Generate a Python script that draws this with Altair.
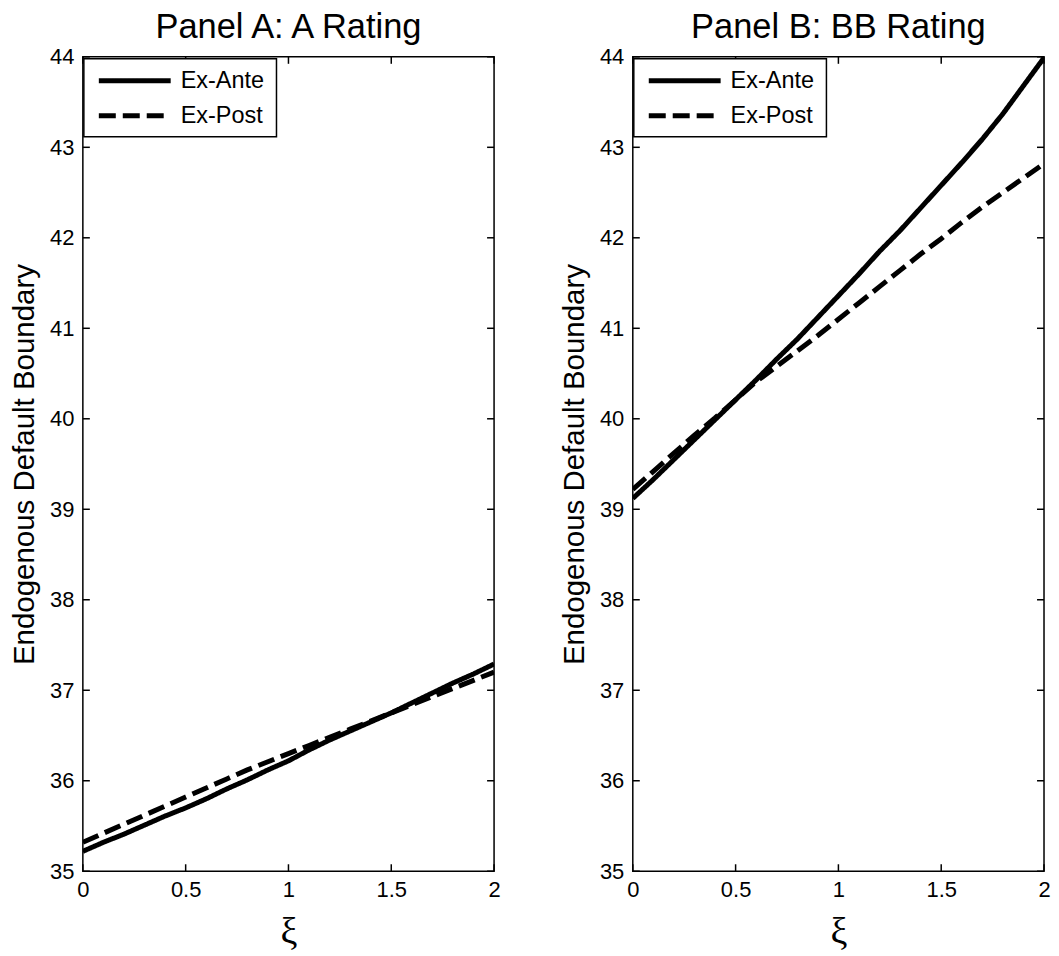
import altair as alt
import pandas as pd

xi = [round(0.1 * i, 1) for i in range(21)]

a_ante = [35.22, 35.32, 35.41, 35.51, 35.61, 35.70, 35.80, 35.91, 36.01, 36.12, 36.22,
          36.34, 36.45, 36.55, 36.65, 36.75, 36.86, 36.97, 37.08, 37.18, 37.29]
a_post = [35.32, 35.42, 35.52, 35.62, 35.72, 35.82, 35.92, 36.02, 36.12, 36.21, 36.30,
          36.39, 36.48, 36.57, 36.66, 36.75, 36.84, 36.93, 37.02, 37.11, 37.20]
b_ante = [39.12, 39.33, 39.55, 39.77, 39.99, 40.21, 40.43, 40.66, 40.88, 41.12, 41.36,
          41.60, 41.85, 42.08, 42.33, 42.58, 42.83, 43.09, 43.37, 43.68, 43.99]
b_post = [39.22, 39.42, 39.62, 39.82, 40.01, 40.21, 40.41, 40.58, 40.75, 40.92, 41.10,
          41.28, 41.46, 41.64, 41.82, 41.99, 42.17, 42.34, 42.50, 42.66, 42.82]

series = ["Ex-Ante", "Ex-Post"]
dashes = [[1, 0], [17, 7]]
y_ticks = [35, 36, 37, 38, 39, 40, 41, 42, 43, 44]
x_ticks = [0, 0.5, 1, 1.5, 2]
titles = ["Panel A: A Rating", "Panel B: BB Rating"]

W, H = 412, 816
SANS = "Liberation Sans"
SERIF = "Liberation Serif"

x_axis = alt.Axis(values=x_ticks, format="~g", title="ξ", labelFlush=False,
                  labelFontSize=22, labelFont=SANS, labelColor="black", labelPadding=8,
                  ticks=False, domain=False, grid=False,
                  titleFont=SERIF, titleFontSize=38, titleFontWeight="normal",
                  titleColor="black", titlePadding=13)
y_axis = alt.Axis(values=y_ticks, title="Endogenous Default Boundary", labelFlush=False,
                  labelFontSize=22, labelFont=SANS, labelColor="black", labelPadding=9,
                  ticks=False, domain=False, grid=False,
                  titleFont=SANS, titleFontSize=29.5, titleFontWeight="normal",
                  titleColor="black", titlePadding=10)


def panel(title, ante, post):
    df = pd.DataFrame({
        "xi": xi + xi,
        "value": ante + post,
        "series": [series[0]] * len(xi) + [series[1]] * len(xi),
    })
    xs = alt.Scale(domain=[0, 2], nice=False, zero=False)
    ys = alt.Scale(domain=[35, 44], nice=False, zero=False)

    lines = alt.Chart(df).mark_line(color="black", strokeWidth=5, clip=True, strokeCap="butt").encode(
        x=alt.X("xi:Q", scale=xs, axis=x_axis, title="ξ"),
        y=alt.Y("value:Q", scale=ys, axis=y_axis, title="Endogenous Default Boundary"),
        strokeDash=alt.StrokeDash("series:N", scale=alt.Scale(domain=series, range=dashes), legend=None),
    )

    yt = pd.DataFrame({"v": y_ticks})
    xt = pd.DataFrame({"v": x_ticks})
    tick_style = dict(color="black", strokeWidth=1.5)
    left_t = alt.Chart(yt).mark_rule(**tick_style).encode(
        y=alt.Y("v:Q", scale=ys, axis=y_axis, title="Endogenous Default Boundary"),
        x=alt.value(0), x2=alt.value(7))
    right_t = alt.Chart(yt).mark_rule(**tick_style).encode(
        y=alt.Y("v:Q", scale=ys, axis=y_axis, title="Endogenous Default Boundary"),
        x=alt.value(W - 7), x2=alt.value(W))
    bottom_t = alt.Chart(xt).mark_rule(**tick_style).encode(
        x=alt.X("v:Q", scale=xs, axis=x_axis, title="ξ"), y=alt.value(H - 7), y2=alt.value(H))
    top_t = alt.Chart(xt).mark_rule(**tick_style).encode(
        x=alt.X("v:Q", scale=xs, axis=x_axis, title="ξ"), y=alt.value(0), y2=alt.value(7))

    # legend box (inside top-left of the plot)
    box = alt.Chart(pd.DataFrame({"s": [0]})).mark_rect(
        fill="white", stroke="black", strokeWidth=1.5).encode(
        x=alt.value(1), x2=alt.value(194), y=alt.value(2), y2=alt.value(80))
    leg = [box]
    for i, (s, d) in enumerate(zip(series, dashes)):
        yy = 24 + 35 * i
        leg.append(alt.Chart(pd.DataFrame({"s": [s]})).mark_rule(
            color="black", strokeWidth=5, strokeDash=d, strokeCap="butt").encode(
            x=alt.value(16), x2=alt.value(88), y=alt.value(yy)))
        leg.append(alt.Chart(pd.DataFrame({"s": [s]})).mark_text(
            align="left", baseline="middle", font=SANS, fontSize=23.5, color="black").encode(
            text="s:N", x=alt.value(98), y=alt.value(yy)))

    return alt.layer(lines, left_t, right_t, bottom_t, top_t, *leg).properties(
        width=W, height=H,
        title=alt.TitleParams(title, fontSize=34.5, font=SANS, fontWeight="normal",
                              anchor="middle", color="black", offset=0),
    )


chart = alt.hconcat(
    panel(titles[0], a_ante, a_post),
    panel(titles[1], b_ante, b_post),
    spacing=57,
).properties(
    padding={"left": 0, "top": 0, "right": 0, "bottom": 0},
    background="white",
).configure_view(stroke="black", strokeWidth=1.5)

chart.save("out.html", embed_options={"renderer": "svg", "actions": False})
